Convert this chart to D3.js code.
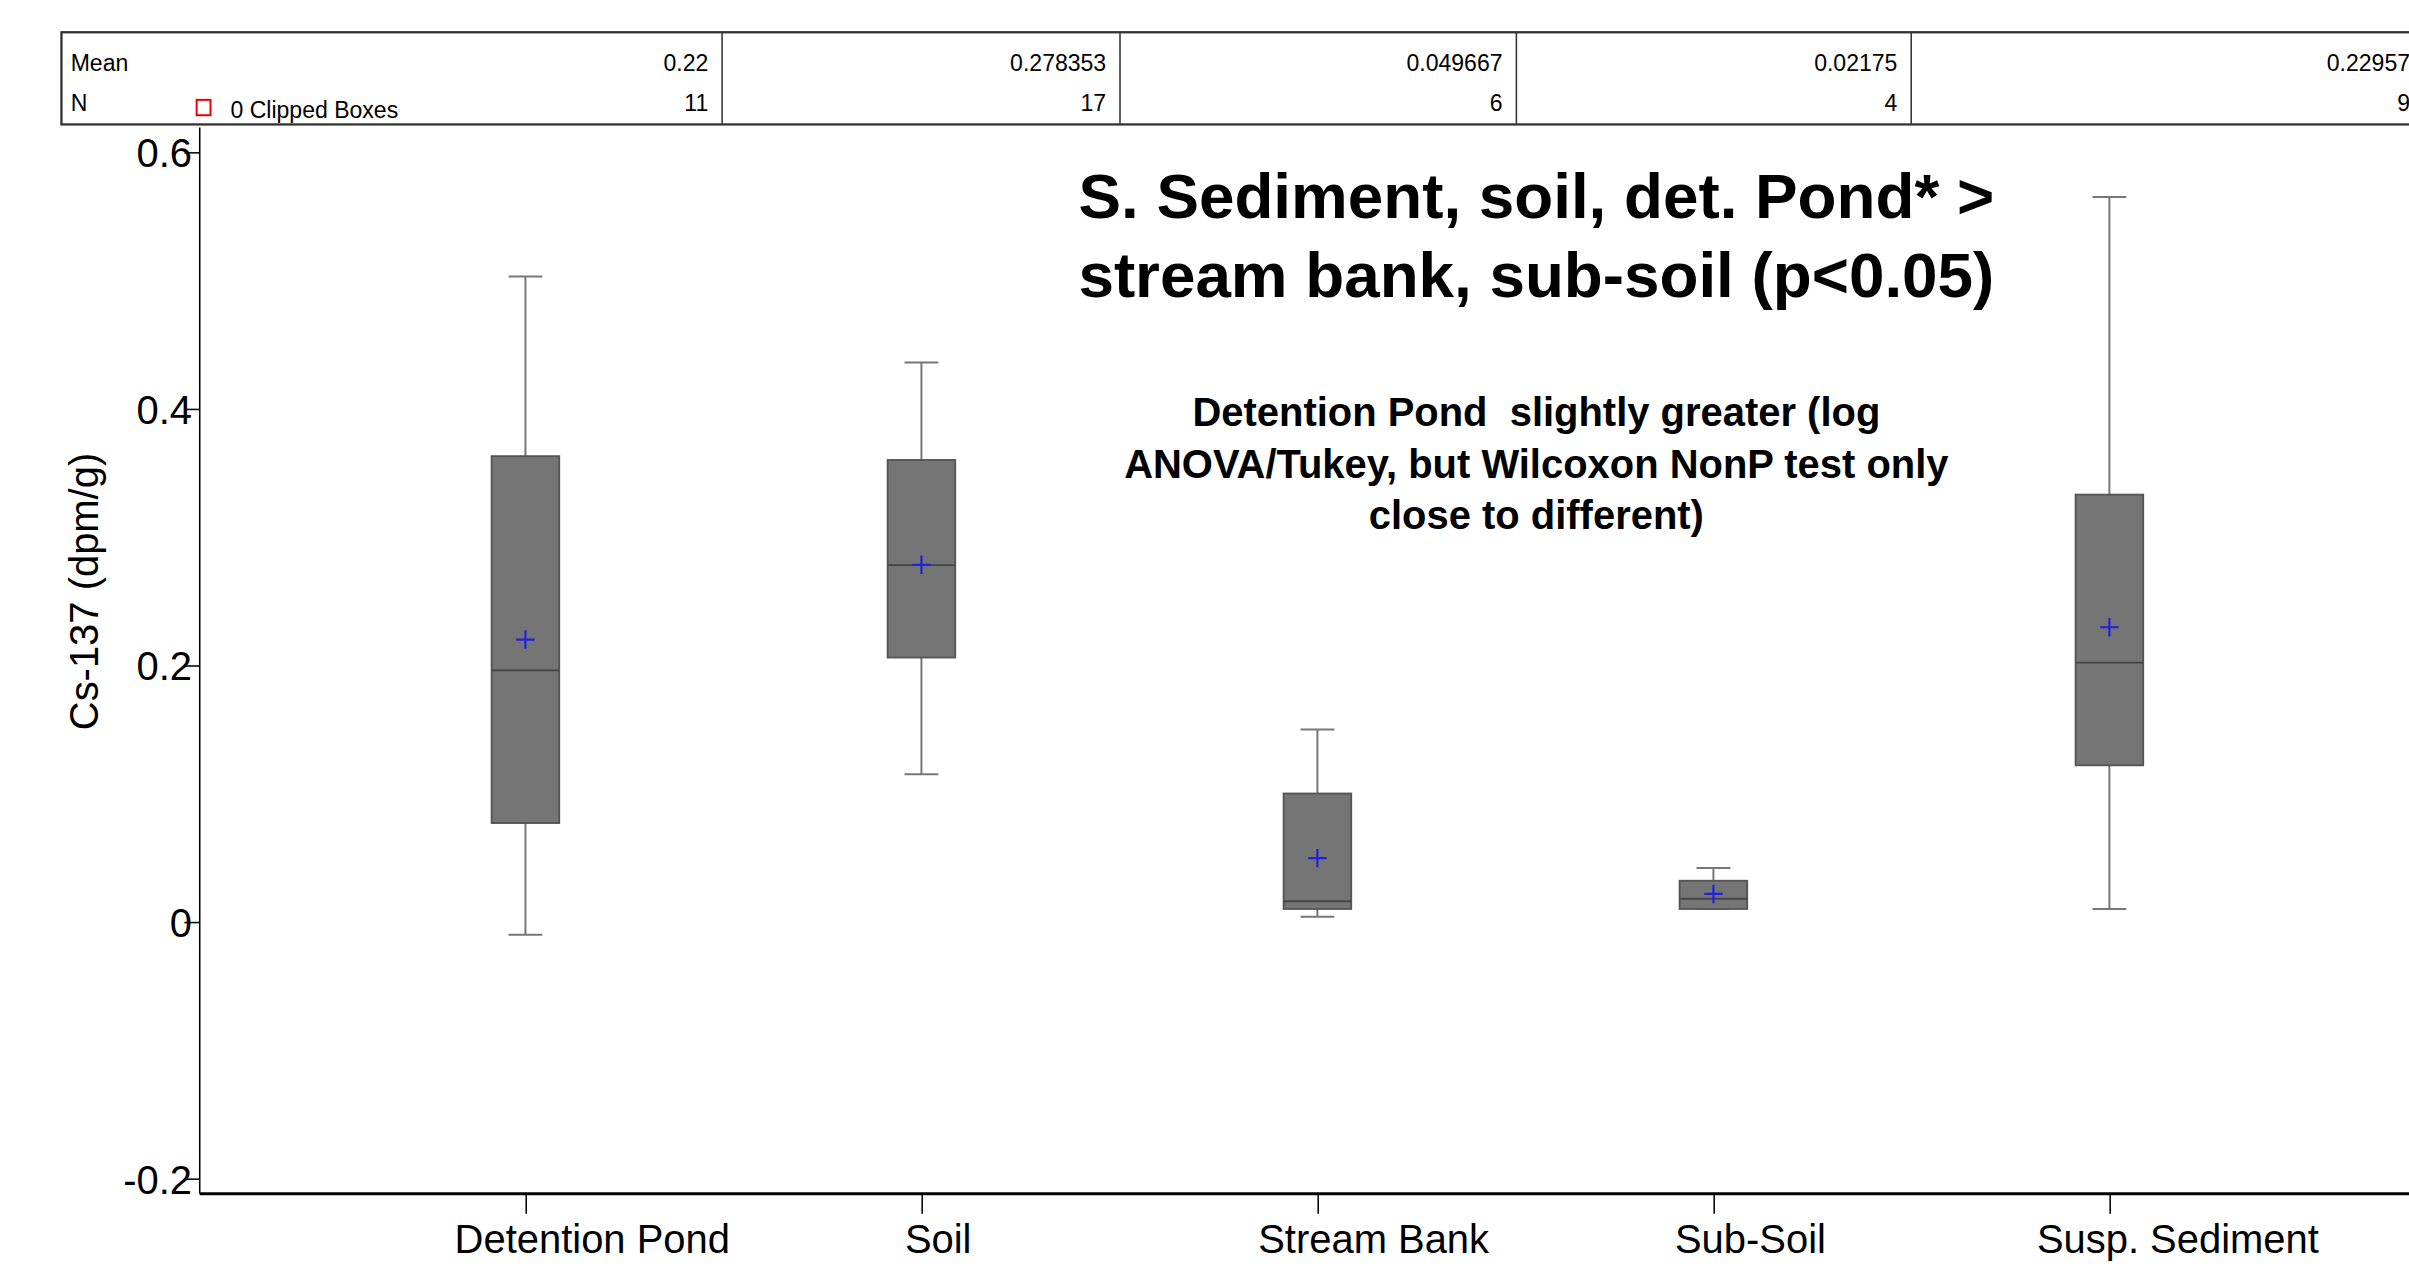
<!DOCTYPE html>
<html><head><meta charset="utf-8">
<script src="https://cdn.jsdelivr.net/npm/d3@7"></script>
<style>
body{margin:0;background:#fff;overflow:hidden}
text{font-family:"Liberation Sans",Arial,sans-serif}
.bold{font-weight:bold}
</style></head><body>
<script>
// data
const categories = ["Detention Pond", "Soil", "Stream Bank", "Sub-Soil", "Susp. Sediment"];
const whiskerHigh = [0.503, 0.436, 0.150, 0.042, 0.565];
const q3 = [0.363, 0.360, 0.100, 0.032, 0.333];
const median = [0.196, 0.278, 0.016, 0.018, 0.202];
const q1 = [0.077, 0.206, 0.010, 0.010, 0.122];
const whiskerLow = [-0.010, 0.115, 0.004, 0.010, 0.010];
const means = [0.22, 0.278353, 0.049667, 0.02175, 0.229576];
const meanLabels = ["0.22", "0.278353", "0.049667", "0.02175", "0.229576"];
const counts = ["11", "17", "6", "4", "92"];
const yTicks = [-0.2, 0, 0.2, 0.4, 0.6];

const W = 1568, H = 1273 * 1568 / 2409;
const svg = d3.select("body").append("svg")
    .attr("width", 2409).attr("height", 1273)
    .attr("viewBox", `0 0 ${W} ${H}`);

const mLeft = 130, mTop = 83, mBottom = 777, mRight = 1600;
const y = d3.scaleLinear().domain([-0.2, 0.6]).range([767, 99]);
const x = d3.scalePoint().domain(categories).range([342, 1373]);

// stats table
const cols = [40, 470, 729, 987, 1244, 1586];
const tbl = svg.append("g");
tbl.append("rect").attr("x", 40).attr("y", 21).attr("width", 1600).attr("height", 60)
    .attr("fill", "none").attr("stroke", "#333").attr("stroke-width", 1.5);
cols.slice(1, 5).forEach(c => tbl.append("line").attr("x1", c).attr("x2", c)
    .attr("y1", 21).attr("y2", 81).attr("stroke", "#333"));
tbl.append("text").attr("x", 46).attr("y", 46).attr("font-size", 15).text("Mean");
tbl.append("text").attr("x", 46).attr("y", 72).attr("font-size", 15).text("N");
tbl.append("rect").attr("x", 128).attr("y", 65).attr("width", 9).attr("height", 10)
    .attr("fill", "none").attr("stroke", "#e00").attr("stroke-width", 1.3);
tbl.append("text").attr("x", 150).attr("y", 77).attr("font-size", 15).text("0 Clipped Boxes");
categories.forEach((c, i) => {
    tbl.append("text").attr("x", cols[i + 1] - 9).attr("y", 46).attr("font-size", 15)
        .attr("text-anchor", "end").text(meanLabels[i]);
    tbl.append("text").attr("x", cols[i + 1] - 9).attr("y", 72).attr("font-size", 15)
        .attr("text-anchor", "end").text(counts[i]);
});

// axes
const yAxis = svg.append("g").attr("transform", `translate(${mLeft},0)`)
    .call(d3.axisLeft(y).tickValues(yTicks).tickSize(10).tickFormat(d => d === 0 ? "0" : d3.format(".1f")(d).replace("−", "-")));
yAxis.select(".domain").attr("d", `M0,${mTop}V${mBottom}`).attr("stroke", "#000");
yAxis.selectAll(".tick line").attr("stroke", "#000");
yAxis.selectAll("text").attr("font-size", 26).attr("x", -5).attr("dy", "0.36em").attr("fill", "#000");

const xAxis = svg.append("g").attr("transform", `translate(0,${mBottom})`)
    .call(d3.axisBottom(x).tickSize(13).tickSizeOuter(0));
xAxis.select(".domain").attr("d", `M${mLeft},0H${mRight}`).attr("stroke", "#000").attr("stroke-width", 2);
xAxis.selectAll(".tick line").attr("stroke", "#000");
xAxis.selectAll("text").attr("font-size", 26).attr("y", 20).attr("dy", "0.71em").attr("fill", "#000")
    .each(function() { d3.select(this).attr("dx", this.getComputedTextLength() * 0.24); });

svg.append("text").attr("transform", `translate(64,385) rotate(-90)`)
    .attr("text-anchor", "middle").attr("font-size", 26).text("Cs-137 (dpm/g)");

// boxes
const bw = 44, cap = 22;
const g = svg.append("g").selectAll("g").data(categories).join("g")
    .attr("transform", d => `translate(${x(d)},0)`);
g.append("line").attr("y1", (d, i) => y(whiskerHigh[i])).attr("y2", (d, i) => y(whiskerLow[i]))
    .attr("stroke", "#777").attr("stroke-width", 1.3);
g.append("line").attr("x1", -cap / 2).attr("x2", cap / 2)
    .attr("y1", (d, i) => y(whiskerHigh[i])).attr("y2", (d, i) => y(whiskerHigh[i]))
    .attr("stroke", "#777").attr("stroke-width", 1.3);
g.append("line").attr("x1", -cap / 2).attr("x2", cap / 2)
    .attr("y1", (d, i) => y(whiskerLow[i])).attr("y2", (d, i) => y(whiskerLow[i]))
    .attr("stroke", "#777").attr("stroke-width", 1.3);
g.append("rect").attr("x", -bw / 2).attr("width", bw)
    .attr("y", (d, i) => y(q3[i])).attr("height", (d, i) => y(q1[i]) - y(q3[i]))
    .attr("fill", "#757575").attr("stroke", "#555").attr("stroke-width", 1.2);
g.append("line").attr("x1", -bw / 2).attr("x2", bw / 2)
    .attr("y1", (d, i) => y(median[i])).attr("y2", (d, i) => y(median[i]))
    .attr("stroke", "#444").attr("stroke-width", 1.2);
g.append("path").attr("d", (d, i) => `M-6,${y(means[i])}h12M0,${y(means[i]) - 6}v12`)
    .attr("stroke", "#2020e0").attr("stroke-width", 1.4);

// annotations
const ann = svg.append("g").attr("text-anchor", "middle");
[["S. Sediment, soil, det. Pond* >", 142], ["stream bank, sub-soil (p<0.05)", 193]].forEach(([t, yy]) =>
    ann.append("text").attr("class", "bold").attr("x", 1000).attr("y", yy).attr("font-size", 41.5).text(t));
[["Detention Pond  slightly greater (log", 277], ["ANOVA/Tukey, but Wilcoxon NonP test only", 311], ["close to different)", 344]].forEach(([t, yy]) =>
    ann.append("text").attr("class", "bold").attr("x", 1000).attr("y", yy).attr("font-size", 26)
        .style("white-space", "pre").text(t));
</script>
</body></html>
